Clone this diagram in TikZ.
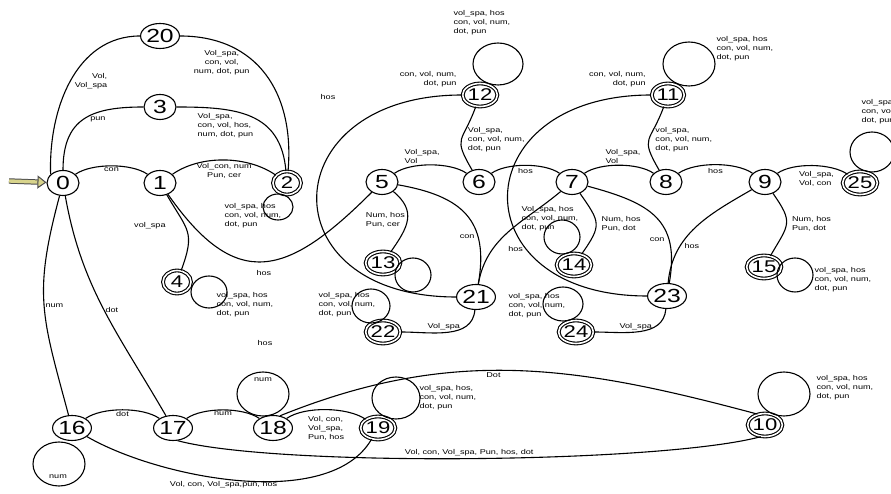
\documentclass[tikz,border=0pt]{standalone}
\usepackage{fontspec}
\setmainfont{Liberation Sans}
\newfontfamily\widesans[FakeStretch=1.3]{Liberation Sans}
\usetikzlibrary{shapes.geometric, arrows.meta, positioning}

\begin{document}
\begin{tikzpicture}[x=1pt, y=1pt,
    every node/.style={font=\widesans},
    %% state styles
    stnode/.style={ellipse, draw=black, line width=1.1pt,
      minimum width=32pt, minimum height=25pt, inner sep=0pt,
      font=\widesans\fontsize{19}{19}\selectfont},
    finnode/.style={stnode, double, double distance=1.6pt,
      minimum width=28pt, minimum height=23pt,
      font=\widesans\fontsize{17}{17}\selectfont},
    %% connector styles
    edg/.style={draw=black, line width=1.1pt},
    hop/.style={out=35, in=145, looseness=.7},
    loopc/.style={draw=black, line width=1.1pt},
    startarr/.style={draw=black!70, line width=1pt, double=olive!35!white,
      double distance=3.4pt,
      -{Triangle[open, length=9pt, width=13pt, fill=olive!35!white]}},
    %% label style
    lab/.style={font=\widesans\fontsize{7}{9}\selectfont, inner sep=1pt,
      align=left},
  ]
  \path[use as bounding box, fill=white] (0,0) rectangle (891,494);

  %% ── States ──────────────────────────────────────────────
  \node[stnode]  (n0)  at (63,311)  {0};
  \node[stnode]  (n1)  at (160,311) {1};
  \node[finnode] (n2)  at (287,311) {2};
  \node[stnode]  (n3)  at (160,387) {3};
  \node[stnode]  (n20) at (160,458) {20};
  \node[finnode] (n4)  at (177,212) {4};
  \node[stnode]  (n5)  at (382,312) {5};
  \node[stnode]  (n6)  at (479,312) {6};
  \node[stnode]  (n7)  at (572,312) {7};
  \node[stnode]  (n8)  at (666,312) {8};
  \node[stnode]  (n9)  at (765,312) {9};
  \node[finnode] (n25) at (860,311) {25};
  \node[finnode] (n12) at (480,399) {12};
  \node[finnode] (n11) at (668,399) {11};
  \node[finnode] (n13) at (383,231) {13};
  \node[finnode] (n14) at (574,229) {14};
  \node[finnode] (n15) at (764,227) {15};
  \node[stnode]  (n21) at (476,197) {21};
  \node[finnode] (n22) at (383,162) {22};
  \node[stnode]  (n23) at (667,198) {23};
  \node[finnode] (n24) at (576,162) {24};
  \node[stnode]  (n16) at (72,66)   {16};
  \node[stnode]  (n17) at (173,66)  {17};
  \node[stnode]  (n18) at (273,66)  {18};
  \node[finnode] (n19) at (378,66)  {19};
  \node[finnode] (n10) at (765,69)  {10};

  %% entry arrow
  \coordinate (entry) at (9,313);
  \draw[startarr] (entry) -- (n0);

  %% ── Upper part ──────────────────────────────────────────
  \draw[edg] (n0) to[hop] node[lab, below=0pt]{con} (n1);
  \draw[edg] (n1) to[out=35, in=145, looseness=.85]
    node[lab, below=2pt, align=center]{Vol\_con, num\\Pun, cer} (n2);
  \draw[edg] (n0) to[out=90, in=180, looseness=1.3]
    node[lab, pos=.5, right=5pt]{pun} (n3);
  \draw[edg] (n0.145) to[out=92, in=180, looseness=1]
    node[lab, pos=.5, right=3pt, align=right]{Vol,\\Vol\_spa} (n20);
  \draw[edg] (n3) to[out=0, in=95, looseness=1.2]
    node[lab, pos=.3, below=2pt]{Vol\_spa,\\con, vol, hos,\\num, dot, pun} (n2);
  \draw[edg] (n20) to[out=0, in=85, looseness=1.15]
    node[lab, pos=.2, below=6pt, align=center]{Vol\_spa,\\con, vol,\\num, dot, pun} (n2);
  \draw[edg] (n1) to[out=-60, in=70, looseness=1.4]
    node[lab, pos=.4, left=18pt]{vol\_spa} (n4);
  \draw[edg] (n1) to[out=-55, in=-135, looseness=1.5]
    node[lab, pos=.5, below=7pt]{hos} (n5);

  \draw[edg] (n5) to[hop] node[lab, pos=.4, above=0pt]{Vol\_spa,\\Vol} (n6);
  \draw[edg] (n6) to[hop] node[lab, below=2pt]{hos} (n7);
  \draw[edg] (n7) to[hop] node[lab, pos=.55, above=0pt]{Vol\_spa,\\Vol} (n8);
  \draw[edg] (n8) to[hop] node[lab, below=2pt]{hos} (n9);
  \draw[edg] (n9) to[hop] node[lab, pos=.55, below=4pt]{Vol\_spa,\\Vol, con} (n25);

  \draw[edg] (n5) to[out=-10, in=80, looseness=1.3]
    node[lab, pos=.7, left=2pt]{con} (n21);
  \draw[edg] (n5) to[out=-40, in=55, looseness=1.3]
    node[lab, pos=.5, left=1pt]{Num, hos\\Pun, cer} (n13);
  \draw[edg] (n6) to[out=120, in=-110, looseness=1.6]
    node[lab, pos=.5, right=5pt]{Vol\_spa,\\con, vol, num,\\dot, pun} (n12);
  \draw[edg] (n8) to[out=120, in=-110, looseness=1.6]
    node[lab, pos=.5, right=5pt]{vol\_spa,\\con, vol, num,\\dot, pun} (n11);
  \draw[edg] (n12) to[out=180, in=180, looseness=2.4]
    node[lab, pos=0, anchor=south east, xshift=-4pt, yshift=6pt, align=right]
    {con, vol, num,\\dot, pun} (n21);
  \draw[edg] (n11) to[out=180, in=180, looseness=2.4]
    node[lab, pos=0, anchor=south east, xshift=-4pt, yshift=6pt, align=right]
    {con, vol, num,\\dot, pun} (n23);
  \draw[edg] (n7) to[out=-15, in=80, looseness=1.3]
    node[lab, pos=.72, left=3pt]{con} (n23);
  \draw[edg] (n7) to[out=-55, in=55, looseness=1.5]
    node[lab, pos=.5, right=4pt]{Num, hos\\Pun, dot} (n14);
  \draw[edg] (n9) to[out=-55, in=60, looseness=1.5]
    node[lab, pos=.5, right=4pt]{Num, hos\\Pun, dot} (n15);
  \draw[edg] (n21) to[out=80, in=-140]
    node[lab, pos=.3, right=14pt]{hos} (n7);
  \draw[edg] (n23) to[out=85, in=-150]
    node[lab, pos=.3, right=3pt]{hos} (n9);
  \draw[edg] (n21) to[out=-95, in=0]
    node[lab, pos=.55, above=1pt]{Vol\_spa} (n22);
  \draw[edg] (n23) to[out=-95, in=0]
    node[lab, pos=.55, above=1pt]{Vol\_spa} (n24);

  %% stray labels
  \node[lab] (hosA) at (328,397) {hos};
  \node[lab] (hosB) at (265,151) {hos};

  %% ── Lower part ──────────────────────────────────────────
  \draw[edg] (n0) to[out=-105, in=105, looseness=1.2]
    node[lab, pos=.5, anchor=west]{num} (n16);
  \draw[edg] (n0) to[out=-80, in=120]
    node[lab, pos=.5, anchor=west]{dot} (n17);
  \draw[edg] (n16) to[hop] node[lab, below=0pt]{dot} (n17);
  \draw[edg] (n17) to[hop] node[lab, below=0pt]{num} (n18);
  \draw[edg] (n18) to[hop]
    node[lab, below=5pt]{Vol, con,\\Vol\_spa,\\Pun, hos} (n19);
  \draw[edg] (n18.60) to[out=22, in=165]
    node[lab, pos=.45, below=1pt]{Dot} (n10.125);
  \draw[edg] (n16) to[out=-30, in=-120, looseness=.75]
    node[lab, pos=.45, below=1pt]{Vol, con, Vol\_spa,pun, hos} (n19);
  \draw[edg] (n17.-70) to[out=-15, in=-165, looseness=.45]
    node[lab, pos=.5, above=1pt]{Vol, con, Vol\_spa, Pun, hos, dot} (n10.-110);

  %% ── Self loops ──────────────────────────────────────────
  \draw[loopc] (n2.center) ++(-9,-24) ellipse[x radius=15, y radius=13]
    ++(-55,-9) node[lab, anchor=west]{vol\_spa, hos\\con, vol, num,\\dot, pun};
  \draw[loopc] (n4.center) ++(32,-10) ellipse[x radius=18, y radius=16]
    ++(6,-13) node[lab, anchor=west]{vol\_spa, hos\\con, vol, num,\\dot, pun};
  \draw[loopc] (n13.center) ++(30,-12) ellipse[x radius=18, y radius=17];
  \draw[loopc] (n14.center) ++(-12,28) ellipse[x radius=18, y radius=17]
    ++(-42,18) node[lab, anchor=west]{Vol\_spa, hos\\con, vol, num,\\dot, pun};
  \draw[loopc] (n22.center) ++(-12,26) ellipse[x radius=19, y radius=17]
    ++(-54,1) node[lab, anchor=west]{vol\_spa, hos\\con, vol, num,\\dot, pun};
  \draw[loopc] (n24.center) ++(-13,28) ellipse[x radius=20, y radius=17]
    ++(-56,-2) node[lab, anchor=west]{vol\_spa, hos\\con, vol, num,\\dot, pun};
  \draw[loopc] (n15.center) ++(31,-8) ellipse[x radius=18, y radius=17]
    ++(18,-5) node[lab, anchor=west]{vol\_spa, hos\\con, vol, num,\\dot, pun};
  \draw[loopc] (n12.center) ++(18,31) ellipse[x radius=25, y radius=21]
    ++(-46,41) node[lab, anchor=west]{vol\_spa, hos\\con, vol, num,\\dot, pun};
  \draw[loopc] (n11.center) ++(21,31) ellipse[x radius=26, y radius=22]
    ++(26,15) node[lab, anchor=west]{vol\_spa, hos\\con, vol, num,\\dot, pun};
  \draw[loopc] (n25.center) ++(12,31) ellipse[x radius=22, y radius=20]
    ++(-12,40) node[lab, anchor=west]{vol\_spa, hos\\con, vol, num,\\dot, pun};
  \draw[loopc] (n16.center) ++(-13,-36) ellipse[x radius=26, y radius=22]
    ++(-1,-13) node[lab]{num};
  \draw[loopc] (n18.center) ++(-10,34) ellipse[x radius=26, y radius=22]
    ++(0,14) node[lab]{num};
  \draw[loopc] (n19.center) ++(18,30) ellipse[x radius=24, y radius=21]
    ++(22,0) node[lab, anchor=west]{vol\_spa, hos,\\con, vol, num,\\dot, pun};
  \draw[loopc] (n10.center) ++(19,31) ellipse[x radius=26, y radius=22]
    ++(31,6) node[lab, anchor=west]{vol\_spa, hos\\con, vol, num,\\dot, pun};
\end{tikzpicture}
\end{document}
